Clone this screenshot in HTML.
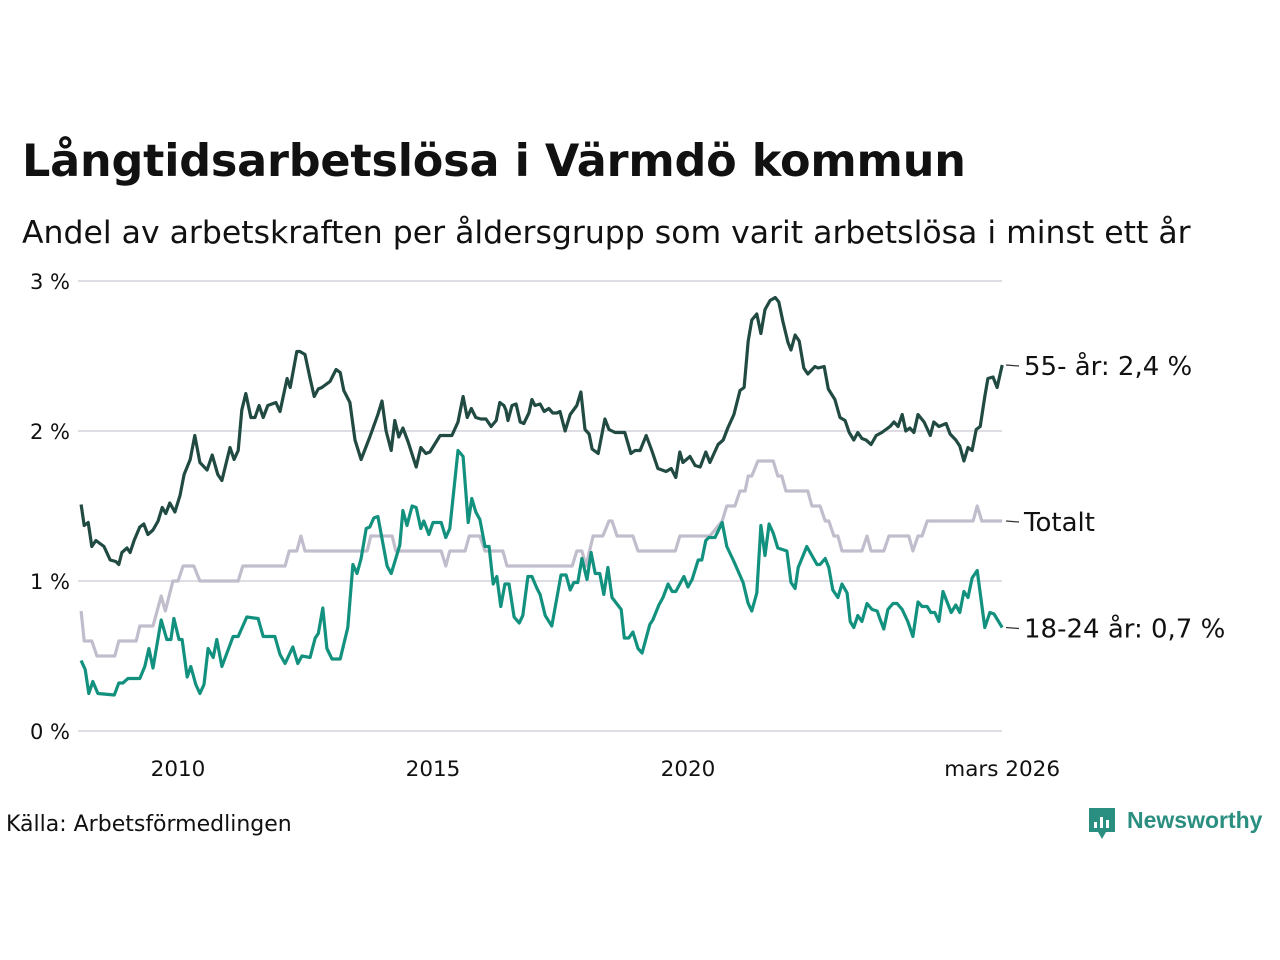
<!DOCTYPE html>
<html><head><meta charset="utf-8">
<style>
body{margin:0;background:#fff;font-family:"Liberation Sans","DejaVu Sans",sans-serif;}
#wrap{position:relative;width:1280px;height:960px;overflow:hidden;}
h1{position:absolute;left:22px;top:136px;margin:0;font-size:44.5px;font-weight:bold;color:#111;font-family:"DejaVu Sans","Liberation Sans",sans-serif;letter-spacing:-0.2px}
.sub{position:absolute;left:22px;top:215px;margin:0;font-size:31.5px;color:#111;font-family:"DejaVu Sans","Liberation Sans",sans-serif;}
svg text{font-family:"DejaVu Sans","Liberation Sans",sans-serif;fill:#111}
</style></head><body>
<div id="wrap">
<h1>Långtidsarbetslösa i Värmdö kommun</h1>
<div class="sub">Andel av arbetskraften per åldersgrupp som varit arbetslösa i minst ett år</div>
<svg id="chart" width="1280" height="960" style="position:absolute;left:0;top:0"></svg>
</div>
<script>
const yTicks=[0,1,2,3];
const yTickLabels=["0 %","1 %","2 %","3 %"];
const xTicks=[2010,2015,2020,2026.16];
const xTickLabels=["2010","2015","2020","mars 2026"];
const oldDates=[2008.10,2008.16,2008.24,2008.31,2008.39,2008.55,2008.67,2008.78,2008.84,2008.90,2009.00,2009.06,2009.14,2009.25,2009.33,2009.41,2009.51,2009.61,2009.69,2009.76,2009.84,2009.94,2010.04,2010.12,2010.24,2010.33,2010.43,2010.57,2010.67,2010.78,2010.86,2011.02,2011.10,2011.18,2011.25,2011.33,2011.43,2011.51,2011.59,2011.67,2011.76,2011.92,2012.00,2012.14,2012.20,2012.33,2012.39,2012.49,2012.59,2012.67,2012.75,2012.82,2012.98,2013.10,2013.18,2013.25,2013.37,2013.47,2013.59,2013.76,2013.92,2014.00,2014.08,2014.18,2014.25,2014.33,2014.41,2014.51,2014.67,2014.76,2014.86,2014.94,2015.14,2015.37,2015.49,2015.59,2015.67,2015.75,2015.84,2015.94,2016.04,2016.14,2016.24,2016.31,2016.39,2016.43,2016.47,2016.55,2016.63,2016.71,2016.78,2016.88,2016.94,2017.00,2017.10,2017.18,2017.27,2017.35,2017.43,2017.49,2017.59,2017.69,2017.82,2017.90,2017.98,2018.06,2018.12,2018.24,2018.37,2018.45,2018.57,2018.67,2018.76,2018.88,2018.96,2019.06,2019.18,2019.29,2019.41,2019.57,2019.67,2019.76,2019.84,2019.90,2020.04,2020.14,2020.24,2020.35,2020.43,2020.59,2020.69,2020.78,2020.90,2021.02,2021.10,2021.18,2021.25,2021.35,2021.43,2021.51,2021.61,2021.71,2021.78,2021.86,2021.96,2022.02,2022.10,2022.18,2022.27,2022.35,2022.49,2022.55,2022.67,2022.75,2022.88,2022.98,2023.08,2023.16,2023.25,2023.33,2023.41,2023.49,2023.59,2023.69,2023.80,2023.88,2023.96,2024.04,2024.12,2024.20,2024.27,2024.35,2024.43,2024.51,2024.63,2024.75,2024.82,2024.92,2025.06,2025.14,2025.25,2025.33,2025.41,2025.49,2025.57,2025.65,2025.73,2025.82,2025.88,2025.98,2026.06,2026.16];
const oldValues=[1.51,1.37,1.39,1.23,1.27,1.23,1.14,1.13,1.11,1.19,1.22,1.19,1.27,1.36,1.38,1.31,1.34,1.40,1.49,1.45,1.52,1.46,1.57,1.71,1.81,1.97,1.79,1.74,1.84,1.71,1.67,1.89,1.81,1.87,2.14,2.25,2.09,2.09,2.17,2.09,2.17,2.19,2.13,2.35,2.29,2.53,2.53,2.51,2.35,2.23,2.28,2.29,2.33,2.41,2.39,2.27,2.19,1.94,1.81,1.96,2.11,2.20,2.00,1.87,2.07,1.96,2.02,1.93,1.76,1.89,1.85,1.86,1.97,1.97,2.06,2.23,2.09,2.15,2.09,2.08,2.08,2.03,2.07,2.19,2.17,2.14,2.07,2.17,2.18,2.06,2.05,2.12,2.21,2.17,2.18,2.13,2.15,2.12,2.12,2.13,2.00,2.11,2.17,2.26,2.01,1.98,1.88,1.85,2.08,2.01,1.99,1.99,1.99,1.85,1.87,1.87,1.97,1.87,1.75,1.73,1.75,1.69,1.86,1.79,1.83,1.77,1.76,1.86,1.79,1.91,1.94,2.02,2.11,2.27,2.29,2.60,2.74,2.78,2.65,2.81,2.87,2.89,2.86,2.73,2.59,2.54,2.64,2.60,2.42,2.38,2.43,2.42,2.43,2.28,2.21,2.09,2.07,1.99,1.94,1.99,1.95,1.94,1.91,1.97,1.99,2.01,2.03,2.06,2.03,2.11,2.00,2.02,1.99,2.11,2.06,1.97,2.06,2.03,2.05,1.98,1.94,1.90,1.80,1.89,1.87,2.01,2.03,2.23,2.35,2.36,2.29,2.44];
const youngDates=[2008.10,2008.18,2008.25,2008.33,2008.43,2008.75,2008.84,2008.92,2009.02,2009.25,2009.35,2009.43,2009.51,2009.67,2009.78,2009.86,2009.92,2010.02,2010.08,2010.18,2010.25,2010.35,2010.43,2010.51,2010.59,2010.69,2010.76,2010.86,2011.08,2011.18,2011.35,2011.57,2011.67,2011.90,2012.00,2012.10,2012.25,2012.35,2012.43,2012.59,2012.69,2012.75,2012.84,2012.92,2013.02,2013.18,2013.33,2013.43,2013.51,2013.59,2013.69,2013.76,2013.84,2013.92,2014.10,2014.18,2014.27,2014.35,2014.41,2014.49,2014.59,2014.67,2014.76,2014.82,2014.92,2015.00,2015.16,2015.25,2015.33,2015.49,2015.59,2015.69,2015.76,2015.84,2015.92,2016.02,2016.10,2016.18,2016.25,2016.33,2016.41,2016.49,2016.59,2016.69,2016.76,2016.86,2016.94,2017.04,2017.10,2017.20,2017.33,2017.51,2017.61,2017.69,2017.76,2017.84,2017.92,2018.02,2018.10,2018.18,2018.27,2018.35,2018.43,2018.51,2018.69,2018.75,2018.84,2018.92,2019.02,2019.10,2019.25,2019.31,2019.43,2019.51,2019.61,2019.69,2019.76,2019.92,2020.00,2020.08,2020.20,2020.27,2020.35,2020.41,2020.53,2020.67,2020.76,2020.90,2021.08,2021.18,2021.25,2021.35,2021.43,2021.51,2021.59,2021.67,2021.76,2021.94,2022.02,2022.10,2022.16,2022.33,2022.53,2022.59,2022.69,2022.76,2022.84,2022.94,2023.02,2023.12,2023.18,2023.25,2023.33,2023.41,2023.51,2023.61,2023.71,2023.76,2023.84,2023.92,2024.02,2024.10,2024.20,2024.31,2024.41,2024.51,2024.59,2024.69,2024.76,2024.84,2024.92,2025.00,2025.08,2025.16,2025.25,2025.33,2025.41,2025.49,2025.57,2025.67,2025.82,2025.92,2026.00,2026.16];
const youngValues=[0.47,0.41,0.25,0.33,0.25,0.24,0.32,0.32,0.35,0.35,0.43,0.55,0.42,0.74,0.61,0.61,0.75,0.61,0.61,0.36,0.43,0.31,0.25,0.31,0.55,0.49,0.61,0.43,0.63,0.63,0.76,0.75,0.63,0.63,0.51,0.45,0.56,0.45,0.50,0.49,0.62,0.65,0.82,0.55,0.48,0.48,0.69,1.11,1.05,1.15,1.35,1.36,1.42,1.43,1.10,1.05,1.15,1.24,1.47,1.37,1.50,1.49,1.35,1.40,1.31,1.39,1.39,1.29,1.35,1.87,1.83,1.39,1.55,1.46,1.41,1.23,1.23,0.98,1.03,0.83,0.98,0.98,0.76,0.72,0.77,1.03,1.03,0.95,0.91,0.77,0.70,1.04,1.04,0.94,0.99,0.99,1.15,1.01,1.19,1.05,1.05,0.91,1.09,0.89,0.81,0.62,0.62,0.66,0.55,0.52,0.71,0.74,0.84,0.89,0.98,0.93,0.93,1.03,0.96,1.01,1.14,1.14,1.27,1.29,1.29,1.39,1.23,1.13,0.99,0.85,0.80,0.92,1.37,1.17,1.38,1.32,1.22,1.20,0.99,0.95,1.09,1.23,1.11,1.11,1.15,1.09,0.94,0.89,0.98,0.92,0.73,0.69,0.77,0.73,0.85,0.81,0.80,0.75,0.68,0.81,0.85,0.85,0.81,0.73,0.63,0.86,0.83,0.83,0.79,0.79,0.73,0.93,0.86,0.79,0.84,0.79,0.93,0.89,1.02,1.07,0.69,0.79,0.78,0.69];
const totalDates=[2008.10,2008.16,2008.31,2008.41,2008.76,2008.84,2009.18,2009.25,2009.51,2009.67,2009.75,2009.90,2010.00,2010.10,2010.31,2010.43,2011.18,2011.27,2012.10,2012.18,2012.33,2012.41,2012.49,2013.71,2013.78,2014.20,2014.27,2015.16,2015.25,2015.33,2015.63,2015.71,2015.92,2016.02,2016.37,2016.45,2017.73,2017.82,2017.92,2018.00,2018.14,2018.33,2018.45,2018.51,2018.61,2018.92,2019.02,2019.75,2019.84,2020.43,2020.67,2020.76,2020.92,2021.02,2021.12,2021.18,2021.25,2021.37,2021.67,2021.76,2021.84,2021.92,2022.35,2022.43,2022.59,2022.69,2022.76,2022.86,2022.94,2023.02,2023.41,2023.51,2023.59,2023.84,2023.94,2024.33,2024.41,2024.51,2024.59,2024.69,2025.59,2025.67,2025.76,2026.16];
const totalValues=[0.8,0.6,0.6,0.5,0.5,0.6,0.6,0.7,0.7,0.9,0.8,1.0,1.0,1.1,1.1,1.0,1.0,1.1,1.1,1.2,1.2,1.3,1.2,1.2,1.3,1.3,1.2,1.2,1.1,1.2,1.2,1.3,1.3,1.2,1.2,1.1,1.1,1.2,1.2,1.1,1.3,1.3,1.4,1.4,1.3,1.3,1.2,1.2,1.3,1.3,1.4,1.5,1.5,1.6,1.6,1.7,1.7,1.8,1.8,1.7,1.7,1.6,1.6,1.5,1.5,1.4,1.4,1.3,1.3,1.2,1.2,1.3,1.2,1.2,1.3,1.3,1.2,1.3,1.3,1.4,1.4,1.5,1.4,1.4];

const svg=document.getElementById('chart');
const NS='http://www.w3.org/2000/svg';
const X0=78,X1=1002,Y0=731,PXY=150;
function xs(t){return 178+(t-2010)*51;}
function ys(v){return Y0-v*PXY;}
function mk(tag,attrs,parent){const e=document.createElementNS(NS,tag);for(const k in attrs)e.setAttribute(k,attrs[k]);(parent||svg).appendChild(e);return e;}

yTicks.forEach((v,i)=>{
  const g=mk('line',{x1:X0,x2:X1,y1:ys(v),y2:ys(v),stroke:'#dedde3','stroke-width':2});
  
  
  const t=mk('text',{x:70,y:ys(v)+8,'text-anchor':'end','font-size':21});
  t.textContent=yTickLabels[i];
  
  
});
xTicks.forEach((v,i)=>{
  const t=mk('text',{x:xs(v),y:776,'text-anchor':'middle','font-size':21.5});
  t.textContent=xTickLabels[i];
  
  
});
function line(dates,vals,color,name){
  const d=dates.map((t,i)=>(i?'L':'M')+xs(t).toFixed(1)+','+ys(vals[i]).toFixed(1)).join('');
  const p=mk('path',{d:d,fill:'none',stroke:color,'stroke-width':3.2,'stroke-linejoin':'round'});
  
  
}
line(totalDates,totalValues,'#c1bdcc','line-totalt');
line(youngDates,youngValues,'#13917f','line-18-24');
line(oldDates,oldValues,'#214a42','line-55-plus');

function lab(v,txt,name){
  const y=ys(v);
  const l=mk('line',{x1:1006,x2:1019,y1:y,y2:y+1,stroke:'#333','stroke-width':1.2});
  
  
  const t=mk('text',{x:1024,y:y+10,'font-size':26});
  t.textContent=txt;
  
  
}
lab(oldValues[oldValues.length-1],'55- år: 2,4 %','label-55-plus');
lab(totalValues[totalValues.length-1],'Totalt','label-totalt');
lab(youngValues[youngValues.length-1],'18-24 år: 0,7 %','label-18-24');

const src=mk('text',{x:6,y:831,'font-size':22});
src.textContent='Källa: Arbetsförmedlingen';



const logo=mk('g',{});


mk('path',{d:'M1089,808 h26 v24 h-9 l-4,7 l-4,-7 h-9 z',fill:'#2a8f80'},logo);
mk('rect',{x:1094,y:822,width:3,height:6,fill:'#fff'},logo);
mk('rect',{x:1100,y:817,width:3,height:11,fill:'#fff'},logo);
mk('rect',{x:1106,y:820,width:3,height:8,fill:'#fff'},logo);
const lt=mk('text',{x:1127,y:828,'font-size':23,'font-weight':'bold',fill:'#2a8f80'},logo);
lt.setAttribute('style','fill:#2a8f80;font-family:"Liberation Sans",sans-serif');
lt.textContent='Newsworthy';
</script>
</body></html>
